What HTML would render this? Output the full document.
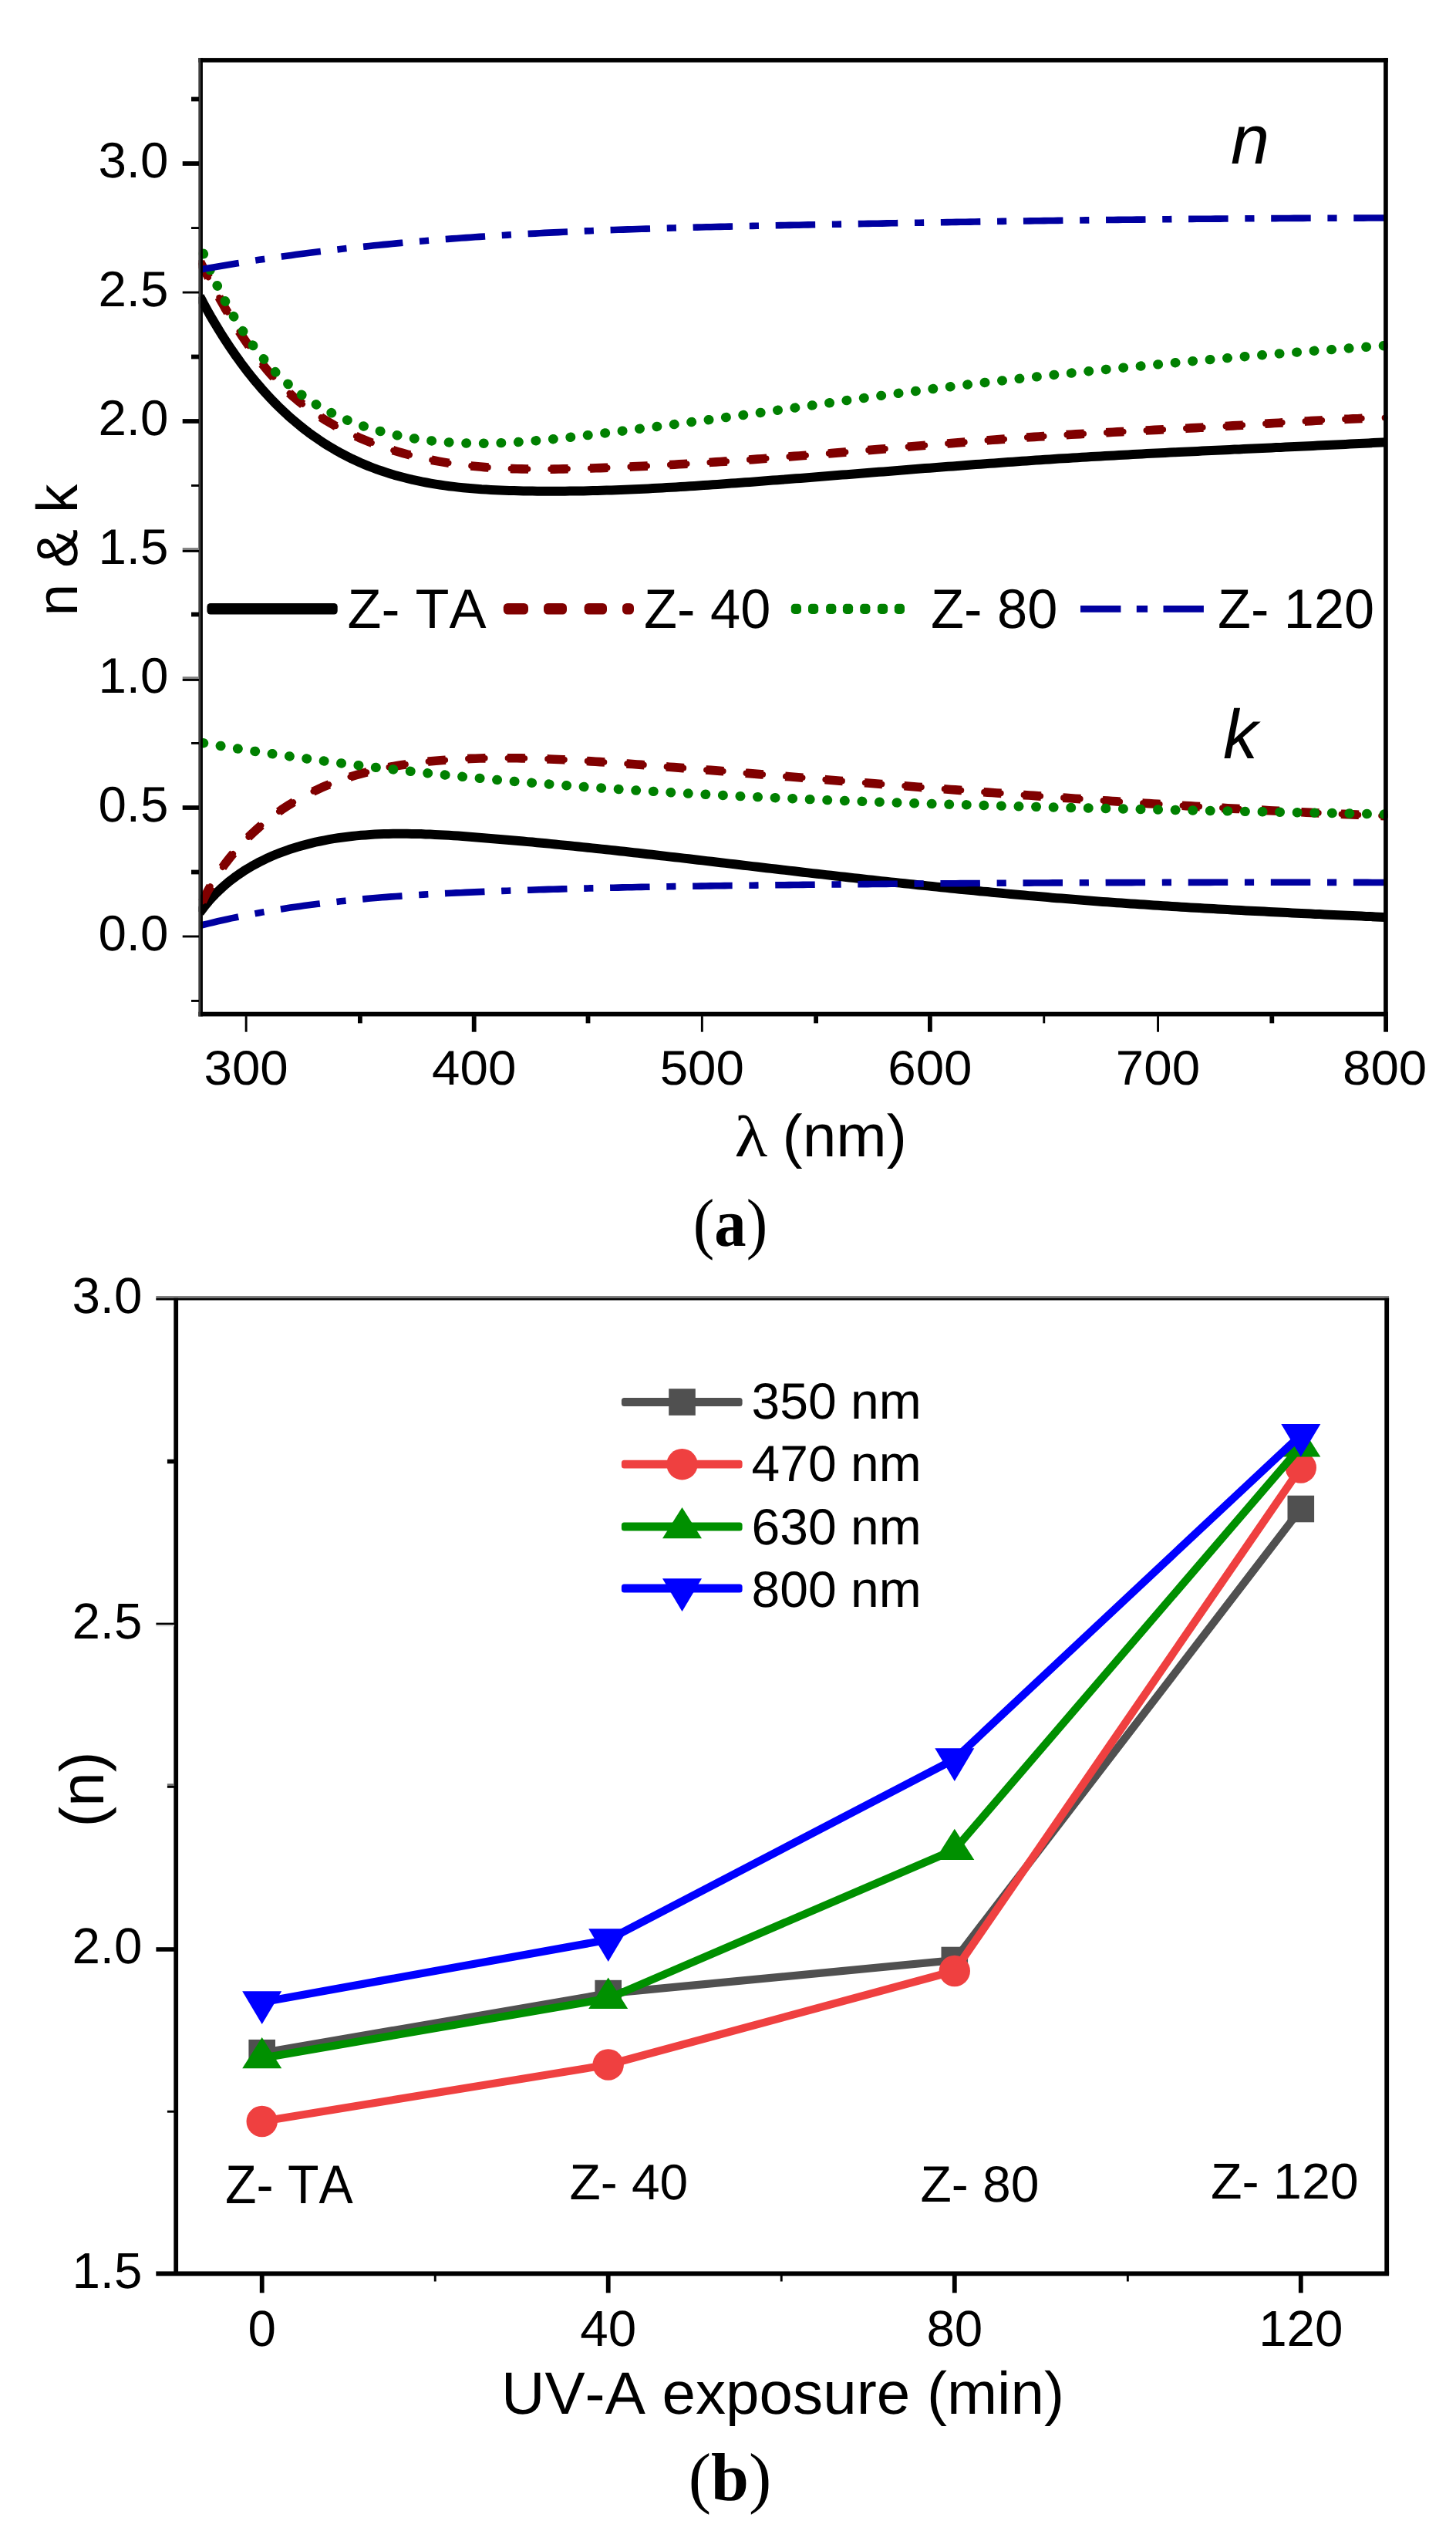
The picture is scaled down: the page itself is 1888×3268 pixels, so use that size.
<!DOCTYPE html>
<html><head><meta charset="utf-8"><title>Figure</title>
<style>html,body{margin:0;padding:0;background:#fff}svg{display:block}</style>
</head><body>
<svg width="1888" height="3268" viewBox="0 0 1888 3268" font-family='"Liberation Sans", Arial, sans-serif' text-rendering="geometricPrecision" font-kerning="none" style="font-kerning:none">
<rect width="1888" height="3268" fill="#fff"/>
<defs><clipPath id="ca"><rect x="257.5" y="80" width="1542" height="1234"/></clipPath></defs>
<g clip-path="url(#ca)" fill="none" stroke-linejoin="round">
<path d="M259.0 384.0 L261.8 389.2 L264.5 394.4 L267.4 399.6 L270.3 404.8 L273.2 410.0 L276.2 415.1 L279.3 420.3 L282.4 425.4 L285.5 430.5 L288.7 435.6 L292.0 440.7 L295.3 445.7 L298.6 450.7 L302.0 455.7 L305.5 460.7 L309.0 465.6 L312.5 470.5 L316.2 475.4 L319.8 480.2 L323.6 484.9 L327.3 489.6 L331.2 494.3 L335.1 498.9 L339.0 503.5 L343.0 508.0 L347.1 512.5 L351.2 516.9 L355.4 521.2 L359.6 525.5 L363.9 529.7 L368.3 533.8 L372.7 537.9 L377.2 541.9 L381.7 545.8 L386.3 549.7 L391.0 553.5 L395.7 557.2 L400.4 560.8 L405.3 564.3 L410.1 567.7 L415.1 571.1 L420.1 574.4 L425.1 577.6 L430.2 580.6 L435.3 583.7 L440.5 586.6 L445.8 589.4 L451.1 592.1 L456.4 594.8 L461.8 597.3 L467.2 599.8 L472.7 602.1 L478.2 604.4 L483.7 606.5 L489.3 608.6 L495.0 610.5 L500.6 612.4 L506.3 614.2 L512.0 615.9 L517.8 617.5 L523.6 619.0 L529.4 620.5 L535.2 621.9 L541.1 623.1 L546.9 624.4 L552.8 625.5 L558.7 626.6 L564.7 627.6 L570.6 628.5 L576.5 629.4 L582.5 630.2 L588.5 630.9 L594.4 631.6 L600.4 632.2 L606.4 632.8 L612.4 633.3 L618.4 633.7 L624.4 634.2 L630.4 634.5 L636.5 634.9 L642.5 635.2 L648.5 635.5 L654.5 635.7 L660.5 635.9 L666.6 636.1 L672.6 636.2 L678.6 636.4 L684.6 636.5 L690.6 636.6 L696.6 636.7 L702.6 636.7 L708.7 636.7 L714.7 636.8 L720.7 636.8 L726.7 636.7 L732.7 636.7 L738.7 636.6 L744.7 636.6 L750.7 636.5 L756.7 636.4 L762.7 636.2 L768.6 636.1 L774.6 636.0 L780.6 635.8 L786.6 635.6 L792.6 635.4 L798.6 635.2 L804.6 635.0 L810.6 634.7 L816.6 634.5 L822.6 634.2 L828.6 634.0 L834.5 633.7 L840.5 633.4 L846.5 633.1 L852.5 632.8 L858.5 632.4 L864.5 632.1 L870.5 631.8 L876.5 631.4 L882.4 631.1 L888.4 630.7 L894.4 630.3 L900.4 629.9 L906.4 629.5 L912.4 629.1 L918.3 628.7 L924.3 628.3 L930.3 627.9 L936.3 627.5 L942.3 627.1 L948.3 626.6 L954.2 626.2 L960.2 625.8 L966.2 625.3 L972.2 624.9 L978.2 624.4 L984.1 624.0 L990.1 623.5 L996.1 623.1 L1002.1 622.6 L1008.1 622.2 L1014.1 621.7 L1020.0 621.3 L1026.0 620.8 L1032.0 620.3 L1038.0 619.9 L1044.0 619.4 L1049.9 618.9 L1055.9 618.5 L1061.9 618.0 L1067.9 617.5 L1073.9 617.1 L1079.9 616.6 L1085.8 616.1 L1091.8 615.6 L1097.8 615.2 L1103.8 614.7 L1109.8 614.2 L1115.7 613.7 L1121.7 613.3 L1127.7 612.8 L1133.7 612.3 L1139.7 611.8 L1145.6 611.4 L1151.6 610.9 L1157.6 610.4 L1163.6 609.9 L1169.6 609.5 L1175.6 609.0 L1181.5 608.5 L1187.5 608.1 L1193.5 607.6 L1199.5 607.1 L1205.5 606.7 L1211.5 606.2 L1217.4 605.7 L1223.4 605.3 L1229.4 604.8 L1235.4 604.4 L1241.4 603.9 L1247.4 603.5 L1253.3 603.0 L1259.3 602.6 L1265.3 602.1 L1271.3 601.7 L1277.3 601.2 L1283.3 600.8 L1289.2 600.4 L1295.2 599.9 L1301.2 599.5 L1307.2 599.1 L1313.2 598.7 L1319.2 598.2 L1325.2 597.8 L1331.1 597.4 L1337.1 597.0 L1343.1 596.6 L1349.1 596.2 L1355.1 595.8 L1361.1 595.4 L1367.1 595.0 L1373.1 594.6 L1379.0 594.3 L1385.0 593.9 L1391.0 593.5 L1397.0 593.2 L1403.0 592.8 L1409.0 592.4 L1415.0 592.1 L1421.0 591.7 L1427.0 591.4 L1432.9 591.1 L1438.9 590.7 L1444.9 590.4 L1450.9 590.1 L1456.9 589.7 L1462.9 589.4 L1468.9 589.1 L1474.9 588.8 L1480.9 588.5 L1486.9 588.1 L1492.9 587.8 L1498.9 587.5 L1504.8 587.2 L1510.8 586.9 L1516.8 586.6 L1522.8 586.3 L1528.8 586.0 L1534.8 585.7 L1540.8 585.5 L1546.8 585.2 L1552.8 584.9 L1558.8 584.6 L1564.8 584.3 L1570.8 584.0 L1576.8 583.7 L1582.8 583.5 L1588.7 583.2 L1594.7 582.9 L1600.7 582.6 L1606.7 582.4 L1612.7 582.1 L1618.7 581.8 L1624.7 581.5 L1630.7 581.2 L1636.7 581.0 L1642.7 580.7 L1648.7 580.4 L1654.7 580.1 L1660.7 579.9 L1666.7 579.6 L1672.7 579.3 L1678.6 579.0 L1684.6 578.7 L1690.6 578.5 L1696.6 578.2 L1702.6 577.9 L1708.6 577.6 L1714.6 577.3 L1720.6 577.0 L1726.6 576.8 L1732.6 576.5 L1738.6 576.2 L1744.6 575.9 L1750.6 575.6 L1756.6 575.3 L1762.6 575.0 L1768.5 574.7 L1774.5 574.4 L1780.5 574.1 L1786.5 573.7 L1792.5 573.4 L1797.0 573.2" stroke="#000" stroke-width="12.0"/>
<path d="M259.0 1183.0 L262.8 1178.0 L266.6 1173.1 L270.6 1168.3 L274.7 1163.8 L278.9 1159.3 L283.2 1155.1 L287.6 1151.0 L292.1 1147.0 L296.7 1143.1 L301.4 1139.5 L306.2 1135.9 L311.1 1132.5 L316.0 1129.2 L321.0 1126.1 L326.1 1123.1 L331.3 1120.2 L336.5 1117.4 L341.8 1114.8 L347.1 1112.2 L352.6 1109.8 L358.0 1107.5 L363.5 1105.4 L369.1 1103.3 L374.7 1101.3 L380.4 1099.5 L386.1 1097.7 L391.8 1096.1 L397.5 1094.6 L403.3 1093.1 L409.1 1091.7 L415.0 1090.5 L420.8 1089.3 L426.7 1088.2 L432.5 1087.2 L438.4 1086.3 L444.3 1085.5 L450.2 1084.7 L456.2 1084.0 L462.1 1083.4 L468.0 1082.8 L474.0 1082.4 L479.9 1082.0 L485.9 1081.6 L491.9 1081.3 L497.9 1081.1 L503.8 1080.9 L509.8 1080.8 L515.8 1080.8 L521.8 1080.7 L527.8 1080.8 L533.9 1080.9 L539.9 1081.0 L545.9 1081.1 L551.9 1081.4 L557.9 1081.6 L564.0 1081.9 L570.0 1082.2 L576.0 1082.5 L582.1 1082.8 L588.1 1083.2 L594.1 1083.6 L600.1 1084.1 L606.2 1084.5 L612.2 1084.9 L618.2 1085.4 L624.2 1085.9 L630.3 1086.4 L636.3 1086.9 L642.3 1087.4 L648.3 1087.9 L654.3 1088.4 L660.3 1088.9 L666.3 1089.4 L672.3 1090.0 L678.3 1090.5 L684.3 1091.1 L690.3 1091.6 L696.3 1092.2 L702.3 1092.7 L708.2 1093.3 L714.2 1093.9 L720.2 1094.5 L726.2 1095.1 L732.2 1095.7 L738.1 1096.3 L744.1 1096.9 L750.1 1097.5 L756.0 1098.1 L762.0 1098.7 L768.0 1099.4 L773.9 1100.0 L779.9 1100.6 L785.9 1101.3 L791.8 1101.9 L797.8 1102.5 L803.7 1103.2 L809.7 1103.8 L815.6 1104.5 L821.6 1105.2 L827.5 1105.8 L833.5 1106.5 L839.4 1107.2 L845.4 1107.8 L851.3 1108.5 L857.3 1109.2 L863.2 1109.9 L869.2 1110.6 L875.1 1111.2 L881.1 1111.9 L887.0 1112.6 L893.0 1113.3 L898.9 1114.0 L904.9 1114.7 L910.8 1115.4 L916.7 1116.1 L922.7 1116.8 L928.6 1117.5 L934.6 1118.2 L940.5 1118.9 L946.5 1119.6 L952.4 1120.3 L958.4 1121.0 L964.3 1121.7 L970.2 1122.4 L976.2 1123.1 L982.1 1123.8 L988.1 1124.5 L994.0 1125.2 L1000.0 1125.9 L1005.9 1126.5 L1011.9 1127.2 L1017.8 1127.9 L1023.8 1128.6 L1029.8 1129.3 L1035.7 1130.0 L1041.7 1130.7 L1047.6 1131.4 L1053.6 1132.1 L1059.5 1132.7 L1065.5 1133.4 L1071.5 1134.1 L1077.4 1134.8 L1083.4 1135.5 L1089.3 1136.1 L1095.3 1136.8 L1101.3 1137.5 L1107.2 1138.1 L1113.2 1138.8 L1119.2 1139.5 L1125.1 1140.1 L1131.1 1140.8 L1137.1 1141.4 L1143.0 1142.1 L1149.0 1142.7 L1155.0 1143.4 L1161.0 1144.0 L1166.9 1144.6 L1172.9 1145.3 L1178.9 1145.9 L1184.9 1146.5 L1190.8 1147.2 L1196.8 1147.8 L1202.8 1148.4 L1208.8 1149.0 L1214.7 1149.6 L1220.7 1150.3 L1226.7 1150.9 L1232.7 1151.5 L1238.6 1152.1 L1244.6 1152.7 L1250.6 1153.2 L1256.6 1153.8 L1262.6 1154.4 L1268.5 1155.0 L1274.5 1155.6 L1280.5 1156.1 L1286.5 1156.7 L1292.5 1157.3 L1298.4 1157.8 L1304.4 1158.4 L1310.4 1158.9 L1316.4 1159.5 L1322.4 1160.0 L1328.3 1160.5 L1334.3 1161.1 L1340.3 1161.6 L1346.3 1162.1 L1352.3 1162.6 L1358.3 1163.1 L1364.2 1163.7 L1370.2 1164.2 L1376.2 1164.6 L1382.2 1165.1 L1388.2 1165.6 L1394.2 1166.1 L1400.1 1166.6 L1406.1 1167.0 L1412.1 1167.5 L1418.1 1168.0 L1424.1 1168.4 L1430.0 1168.9 L1436.0 1169.3 L1442.0 1169.7 L1448.0 1170.2 L1454.0 1170.6 L1460.0 1171.0 L1465.9 1171.4 L1471.9 1171.8 L1477.9 1172.2 L1483.9 1172.6 L1489.9 1173.0 L1495.8 1173.4 L1501.8 1173.8 L1507.8 1174.2 L1513.8 1174.6 L1519.8 1174.9 L1525.8 1175.3 L1531.7 1175.7 L1537.7 1176.0 L1543.7 1176.4 L1549.7 1176.7 L1555.7 1177.1 L1561.7 1177.4 L1567.6 1177.8 L1573.6 1178.1 L1579.6 1178.5 L1585.6 1178.8 L1591.6 1179.1 L1597.6 1179.4 L1603.6 1179.8 L1609.5 1180.1 L1615.5 1180.4 L1621.5 1180.7 L1627.5 1181.0 L1633.5 1181.3 L1639.5 1181.6 L1645.5 1181.9 L1651.5 1182.2 L1657.4 1182.5 L1663.4 1182.8 L1669.4 1183.1 L1675.4 1183.4 L1681.4 1183.7 L1687.4 1184.0 L1693.4 1184.3 L1699.4 1184.6 L1705.4 1184.9 L1711.4 1185.1 L1717.4 1185.4 L1723.4 1185.7 L1729.4 1186.0 L1735.4 1186.2 L1741.4 1186.5 L1747.4 1186.8 L1753.4 1187.1 L1759.4 1187.3 L1765.4 1187.6 L1771.4 1187.9 L1777.4 1188.1 L1783.4 1188.4 L1789.4 1188.7 L1795.4 1188.9 L1797.0 1189.0" stroke="#000" stroke-width="12.0"/>
<defs><path id="rn" d="M258.2 336.7 L260.9 341.9 L263.6 347.1 L266.3 352.3 L269.1 357.5 L271.8 362.8 L274.6 368.0 L277.4 373.3 L280.3 378.6 L283.2 383.8 L286.1 389.1 L289.1 394.4 L292.0 399.7 L295.1 404.9 L298.2 410.2 L301.3 415.4 L304.4 420.6 L307.6 425.7 L310.9 430.9 L314.2 436.0 L317.6 441.0 L321.0 446.0 L324.4 451.0 L328.0 455.9 L331.6 460.8 L335.2 465.6 L338.9 470.4 L342.7 475.1 L346.5 479.7 L350.4 484.3 L354.4 488.7 L358.5 493.1 L362.6 497.4 L366.8 501.7 L371.1 505.8 L375.5 509.9 L379.9 513.8 L384.4 517.7 L389.0 521.5 L393.7 525.1 L398.4 528.7 L403.2 532.2 L408.1 535.6 L413.1 538.9 L418.1 542.1 L423.1 545.3 L428.2 548.3 L433.4 551.3 L438.7 554.2 L443.9 556.9 L449.3 559.6 L454.7 562.3 L460.1 564.8 L465.6 567.3 L471.1 569.6 L476.6 571.9 L482.2 574.1 L487.9 576.3 L493.5 578.3 L499.2 580.3 L504.9 582.2 L510.7 584.0 L516.5 585.7 L522.3 587.4 L528.1 589.0 L533.9 590.5 L539.8 592.0 L545.6 593.3 L551.5 594.6 L557.4 595.8 L563.3 597.0 L569.2 598.1 L575.1 599.1 L581.0 600.1 L586.9 601.0 L592.9 601.8 L598.8 602.6 L604.8 603.3 L610.7 603.9 L616.7 604.5 L622.6 605.1 L628.6 605.6 L634.6 606.0 L640.5 606.4 L646.5 606.8 L652.5 607.1 L658.5 607.3 L664.5 607.6 L670.5 607.8 L676.5 607.9 L682.5 608.0 L688.5 608.1 L694.5 608.2 L700.5 608.2 L706.5 608.2 L712.5 608.2 L718.5 608.1 L724.5 608.0 L730.5 607.9 L736.5 607.8 L742.5 607.7 L748.6 607.5 L754.6 607.4 L760.6 607.2 L766.6 607.0 L772.6 606.8 L778.6 606.6 L784.6 606.4 L790.6 606.2 L796.6 605.9 L802.6 605.7 L808.6 605.4 L814.6 605.2 L820.6 604.9 L826.6 604.6 L832.6 604.4 L838.6 604.1 L844.6 603.8 L850.5 603.5 L856.5 603.2 L862.5 602.8 L868.5 602.5 L874.5 602.2 L880.5 601.8 L886.5 601.5 L892.5 601.1 L898.4 600.8 L904.4 600.4 L910.4 600.0 L916.4 599.7 L922.4 599.3 L928.4 598.9 L934.3 598.5 L940.3 598.1 L946.3 597.7 L952.3 597.3 L958.3 596.8 L964.2 596.4 L970.2 596.0 L976.2 595.6 L982.2 595.1 L988.2 594.7 L994.1 594.2 L1000.1 593.8 L1006.1 593.3 L1012.1 592.9 L1018.1 592.4 L1024.0 591.9 L1030.0 591.4 L1036.0 591.0 L1042.0 590.5 L1048.0 590.0 L1053.9 589.5 L1059.9 589.0 L1065.9 588.6 L1071.9 588.1 L1077.9 587.6 L1083.8 587.1 L1089.8 586.6 L1095.8 586.1 L1101.8 585.6 L1107.7 585.1 L1113.7 584.6 L1119.7 584.1 L1125.7 583.6 L1131.7 583.1 L1137.6 582.6 L1143.6 582.1 L1149.6 581.6 L1155.6 581.0 L1161.6 580.5 L1167.5 580.0 L1173.5 579.5 L1179.5 579.0 L1185.5 578.5 L1191.5 578.0 L1197.4 577.5 L1203.4 577.0 L1209.4 576.5 L1215.4 576.0 L1221.4 575.6 L1227.4 575.1 L1233.3 574.6 L1239.3 574.1 L1245.3 573.6 L1251.3 573.1 L1257.3 572.7 L1263.2 572.2 L1269.2 571.7 L1275.2 571.2 L1281.2 570.8 L1287.2 570.3 L1293.2 569.9 L1299.1 569.4 L1305.1 569.0 L1311.1 568.5 L1317.1 568.1 L1323.1 567.7 L1329.1 567.2 L1335.1 566.8 L1341.0 566.4 L1347.0 566.0 L1353.0 565.6 L1359.0 565.2 L1365.0 564.8 L1371.0 564.4 L1377.0 564.0 L1382.9 563.6 L1388.9 563.3 L1394.9 562.9 L1400.9 562.6 L1406.9 562.2 L1412.9 561.9 L1418.9 561.5 L1424.9 561.2 L1430.9 560.9 L1436.9 560.6 L1442.8 560.2 L1448.8 559.9 L1454.8 559.6 L1460.8 559.3 L1466.8 559.0 L1472.8 558.7 L1478.8 558.4 L1484.8 558.0 L1490.8 557.7 L1496.8 557.4 L1502.8 557.1 L1508.7 556.8 L1514.7 556.5 L1520.7 556.2 L1526.7 555.9 L1532.7 555.6 L1538.7 555.3 L1544.7 554.9 L1550.7 554.6 L1556.7 554.3 L1562.7 554.0 L1568.7 553.6 L1574.6 553.3 L1580.6 553.0 L1586.6 552.6 L1592.6 552.3 L1598.6 551.9 L1604.6 551.5 L1610.6 551.2 L1616.6 550.8 L1622.6 550.4 L1628.6 550.0 L1634.5 549.7 L1640.5 549.3 L1646.5 548.9 L1652.5 548.5 L1658.5 548.2 L1664.5 547.8 L1670.5 547.4 L1676.5 547.0 L1682.5 546.7 L1688.4 546.3 L1694.4 546.0 L1700.4 545.6 L1706.4 545.3 L1712.4 545.0 L1718.4 544.6 L1724.4 544.3 L1730.4 544.0 L1736.4 543.7 L1742.4 543.4 L1748.4 543.2 L1754.4 542.9 L1760.4 542.7 L1766.3 542.4 L1772.3 542.2 L1778.3 542.0 L1784.3 541.8 L1790.3 541.7 L1796.2 541.5"/></defs>
<use href="#rn" stroke="#800000" stroke-width="11.6" stroke-dasharray="23.2 28.4" stroke-dashoffset="-3.2"/>
<use href="#rn" stroke="#800000" stroke-width="7.6" stroke-dasharray="22 29.6" stroke-dashoffset="-3.8" stroke-linecap="round"/>
<defs><path id="rk" d="M261.0 1172.0 L263.6 1166.5 L266.3 1161.0 L269.1 1155.6 L272.1 1150.3 L275.1 1145.1 L278.2 1139.9 L281.5 1134.8 L284.8 1129.7 L288.3 1124.8 L291.8 1119.9 L295.5 1115.1 L299.2 1110.4 L303.1 1105.8 L307.0 1101.2 L311.0 1096.7 L315.1 1092.3 L319.3 1088.0 L323.5 1083.8 L327.8 1079.7 L332.3 1075.6 L336.8 1071.6 L341.3 1067.8 L345.9 1064.0 L350.6 1060.3 L355.4 1056.7 L360.2 1053.2 L365.1 1049.7 L370.1 1046.4 L375.1 1043.2 L380.2 1040.1 L385.3 1037.0 L390.5 1034.1 L395.7 1031.3 L401.0 1028.5 L406.3 1025.9 L411.7 1023.4 L417.1 1020.9 L422.5 1018.6 L428.0 1016.4 L433.6 1014.2 L439.1 1012.2 L444.7 1010.2 L450.4 1008.3 L456.0 1006.5 L461.7 1004.8 L467.5 1003.2 L473.2 1001.6 L479.0 1000.1 L484.8 998.7 L490.7 997.4 L496.5 996.1 L502.4 994.9 L508.3 993.8 L514.2 992.8 L520.2 991.8 L526.1 990.9 L532.1 990.0 L538.1 989.2 L544.1 988.4 L550.1 987.8 L556.1 987.1 L562.1 986.5 L568.1 986.0 L574.1 985.5 L580.2 985.0 L586.2 984.6 L592.2 984.3 L598.2 984.0 L604.3 983.7 L610.3 983.4 L616.3 983.2 L622.3 983.0 L628.3 982.9 L634.4 982.8 L640.4 982.7 L646.4 982.7 L652.4 982.7 L658.4 982.7 L664.4 982.7 L670.4 982.8 L676.4 982.9 L682.4 983.0 L688.4 983.2 L694.4 983.3 L700.4 983.5 L706.4 983.7 L712.3 984.0 L718.3 984.2 L724.3 984.5 L730.3 984.8 L736.3 985.1 L742.3 985.4 L748.3 985.8 L754.2 986.1 L760.2 986.5 L766.2 986.9 L772.2 987.2 L778.2 987.6 L784.2 988.0 L790.1 988.4 L796.1 988.8 L802.1 989.3 L808.1 989.7 L814.1 990.1 L820.0 990.5 L826.0 991.0 L832.0 991.4 L838.0 991.9 L844.0 992.3 L849.9 992.8 L855.9 993.2 L861.9 993.7 L867.9 994.2 L873.9 994.6 L879.8 995.1 L885.8 995.6 L891.8 996.0 L897.8 996.5 L903.8 997.0 L909.7 997.5 L915.7 998.0 L921.7 998.4 L927.7 998.9 L933.7 999.4 L939.6 999.9 L945.6 1000.4 L951.6 1000.9 L957.6 1001.4 L963.6 1001.9 L969.5 1002.4 L975.5 1002.9 L981.5 1003.4 L987.5 1003.9 L993.5 1004.3 L999.4 1004.8 L1005.4 1005.3 L1011.4 1005.8 L1017.4 1006.3 L1023.3 1006.8 L1029.3 1007.3 L1035.3 1007.8 L1041.3 1008.3 L1047.3 1008.8 L1053.2 1009.3 L1059.2 1009.7 L1065.2 1010.2 L1071.2 1010.7 L1077.2 1011.2 L1083.2 1011.7 L1089.1 1012.2 L1095.1 1012.6 L1101.1 1013.1 L1107.1 1013.6 L1113.1 1014.1 L1119.0 1014.6 L1125.0 1015.0 L1131.0 1015.5 L1137.0 1016.0 L1143.0 1016.5 L1148.9 1016.9 L1154.9 1017.4 L1160.9 1017.9 L1166.9 1018.4 L1172.9 1018.8 L1178.8 1019.3 L1184.8 1019.8 L1190.8 1020.2 L1196.8 1020.7 L1202.8 1021.2 L1208.8 1021.6 L1214.7 1022.1 L1220.7 1022.5 L1226.7 1023.0 L1232.7 1023.5 L1238.7 1023.9 L1244.7 1024.4 L1250.6 1024.8 L1256.6 1025.3 L1262.6 1025.7 L1268.6 1026.2 L1274.6 1026.6 L1280.6 1027.1 L1286.5 1027.5 L1292.5 1028.0 L1298.5 1028.4 L1304.5 1028.8 L1310.5 1029.3 L1316.5 1029.7 L1322.4 1030.1 L1328.4 1030.6 L1334.4 1031.0 L1340.4 1031.4 L1346.4 1031.9 L1352.4 1032.3 L1358.4 1032.7 L1364.3 1033.1 L1370.3 1033.6 L1376.3 1034.0 L1382.3 1034.4 L1388.3 1034.8 L1394.3 1035.2 L1400.2 1035.6 L1406.2 1036.1 L1412.2 1036.5 L1418.2 1036.9 L1424.2 1037.3 L1430.2 1037.7 L1436.2 1038.1 L1442.2 1038.5 L1448.1 1038.9 L1454.1 1039.3 L1460.1 1039.7 L1466.1 1040.1 L1472.1 1040.4 L1478.1 1040.8 L1484.1 1041.2 L1490.0 1041.6 L1496.0 1042.0 L1502.0 1042.3 L1508.0 1042.7 L1514.0 1043.1 L1520.0 1043.5 L1526.0 1043.8 L1532.0 1044.2 L1538.0 1044.6 L1543.9 1044.9 L1549.9 1045.3 L1555.9 1045.6 L1561.9 1046.0 L1567.9 1046.3 L1573.9 1046.7 L1579.9 1047.0 L1585.9 1047.4 L1591.9 1047.7 L1597.8 1048.1 L1603.8 1048.4 L1609.8 1048.7 L1615.8 1049.1 L1621.8 1049.4 L1627.8 1049.7 L1633.8 1050.0 L1639.8 1050.4 L1645.8 1050.7 L1651.8 1051.0 L1657.8 1051.3 L1663.8 1051.6 L1669.7 1051.9 L1675.7 1052.2 L1681.7 1052.5 L1687.7 1052.8 L1693.7 1053.1 L1699.7 1053.4 L1705.7 1053.7 L1711.7 1054.0 L1717.7 1054.3 L1723.7 1054.5 L1729.7 1054.8 L1735.7 1055.1 L1741.7 1055.4 L1747.7 1055.6 L1753.7 1055.9 L1759.6 1056.1 L1765.6 1056.4 L1771.6 1056.7 L1777.6 1056.9 L1783.6 1057.2 L1789.6 1057.4 L1795.6 1057.6 L1797.0 1057.7"/></defs>
<use href="#rk" stroke="#800000" stroke-width="11.6" stroke-dasharray="23.2 28.4" stroke-dashoffset="-3.2"/>
<use href="#rk" stroke="#800000" stroke-width="7.6" stroke-dasharray="22 29.6" stroke-dashoffset="-3.8" stroke-linecap="round"/>
<path d="M263.7 328.7 L265.9 334.2 L268.1 339.7 L270.4 345.2 L272.7 350.7 L275.1 356.1 L277.6 361.6 L280.1 367.0 L282.7 372.4 L285.3 377.7 L288.1 383.1 L290.8 388.4 L293.7 393.7 L296.6 398.9 L299.6 404.2 L302.6 409.4 L305.8 414.6 L308.9 419.7 L312.2 424.8 L315.5 429.9 L318.9 434.9 L322.4 439.9 L325.9 444.9 L329.5 449.7 L333.2 454.6 L336.9 459.3 L340.8 464.0 L344.7 468.6 L348.6 473.2 L352.7 477.6 L356.9 482.0 L361.1 486.3 L365.4 490.4 L369.8 494.5 L374.2 498.5 L378.8 502.3 L383.4 506.0 L388.1 509.6 L392.9 513.1 L397.8 516.5 L402.7 519.8 L407.7 522.9 L412.8 526.0 L418.0 529.0 L423.2 531.8 L428.4 534.5 L433.8 537.2 L439.2 539.7 L444.6 542.1 L450.1 544.5 L455.6 546.7 L461.2 548.8 L466.9 550.9 L472.5 552.8 L478.2 554.7 L484.0 556.4 L489.8 558.1 L495.6 559.7 L501.4 561.2 L507.3 562.6 L513.2 563.9 L519.1 565.2 L525.0 566.3 L530.9 567.4 L536.9 568.4 L542.9 569.3 L548.9 570.1 L554.9 570.9 L560.8 571.6 L566.8 572.2 L572.8 572.7 L578.8 573.2 L584.8 573.6 L590.8 574.0 L596.8 574.2 L602.8 574.4 L608.8 574.6 L614.8 574.7 L620.7 574.7 L626.7 574.7 L632.7 574.6 L638.7 574.5 L644.7 574.3 L650.7 574.1 L656.6 573.9 L662.6 573.6 L668.6 573.2 L674.6 572.8 L680.6 572.4 L686.5 572.0 L692.5 571.5 L698.5 571.0 L704.5 570.4 L710.4 569.9 L716.4 569.3 L722.4 568.7 L728.3 568.0 L734.3 567.4 L740.3 566.7 L746.2 566.0 L752.2 565.3 L758.2 564.6 L764.1 563.9 L770.1 563.2 L776.1 562.5 L782.0 561.7 L788.0 561.0 L793.9 560.3 L799.9 559.5 L805.8 558.8 L811.8 558.1 L817.8 557.3 L823.7 556.6 L829.7 555.8 L835.6 555.0 L841.6 554.3 L847.5 553.5 L853.5 552.8 L859.4 552.0 L865.4 551.2 L871.3 550.5 L877.3 549.7 L883.2 548.9 L889.1 548.1 L895.1 547.3 L901.0 546.5 L907.0 545.7 L912.9 545.0 L918.9 544.2 L924.8 543.4 L930.7 542.5 L936.7 541.7 L942.6 540.9 L948.6 540.1 L954.5 539.3 L960.5 538.5 L966.4 537.7 L972.3 536.8 L978.3 536.0 L984.2 535.2 L990.2 534.4 L996.1 533.5 L1002.0 532.7 L1008.0 531.8 L1013.9 531.0 L1019.9 530.2 L1025.8 529.3 L1031.7 528.5 L1037.7 527.6 L1043.6 526.8 L1049.6 525.9 L1055.5 525.1 L1061.5 524.3 L1067.4 523.4 L1073.3 522.6 L1079.3 521.7 L1085.2 520.9 L1091.2 520.1 L1097.1 519.2 L1103.0 518.4 L1109.0 517.6 L1114.9 516.7 L1120.9 515.9 L1126.8 515.1 L1132.8 514.3 L1138.7 513.4 L1144.7 512.6 L1150.6 511.8 L1156.6 511.0 L1162.5 510.2 L1168.5 509.4 L1174.4 508.6 L1180.4 507.9 L1186.3 507.1 L1192.3 506.3 L1198.2 505.6 L1204.2 504.8 L1210.1 504.0 L1216.1 503.3 L1222.0 502.6 L1228.0 501.8 L1233.9 501.1 L1239.9 500.4 L1245.8 499.6 L1251.8 498.9 L1257.7 498.2 L1263.7 497.5 L1269.7 496.8 L1275.6 496.1 L1281.6 495.4 L1287.5 494.7 L1293.5 494.0 L1299.5 493.4 L1305.4 492.7 L1311.4 492.0 L1317.3 491.3 L1323.3 490.7 L1329.3 490.0 L1335.2 489.4 L1341.2 488.7 L1347.1 488.1 L1353.1 487.4 L1359.1 486.8 L1365.0 486.1 L1371.0 485.5 L1377.0 484.9 L1382.9 484.2 L1388.9 483.6 L1394.9 483.0 L1400.8 482.4 L1406.8 481.8 L1412.8 481.1 L1418.7 480.5 L1424.7 479.9 L1430.7 479.3 L1436.7 478.7 L1442.6 478.1 L1448.6 477.5 L1454.6 476.9 L1460.5 476.3 L1466.5 475.8 L1472.5 475.2 L1478.4 474.6 L1484.4 474.0 L1490.4 473.4 L1496.4 472.9 L1502.3 472.3 L1508.3 471.7 L1514.3 471.2 L1520.3 470.6 L1526.2 470.0 L1532.2 469.5 L1538.2 468.9 L1544.2 468.4 L1550.1 467.8 L1556.1 467.3 L1562.1 466.8 L1568.1 466.2 L1574.0 465.7 L1580.0 465.2 L1586.0 464.6 L1592.0 464.1 L1598.0 463.6 L1603.9 463.1 L1609.9 462.6 L1615.9 462.0 L1621.9 461.5 L1627.8 461.0 L1633.8 460.5 L1639.8 460.0 L1645.8 459.5 L1651.8 459.0 L1657.7 458.5 L1663.7 458.1 L1669.7 457.6 L1675.7 457.1 L1681.7 456.6 L1687.6 456.1 L1693.6 455.7 L1699.6 455.2 L1705.6 454.7 L1711.6 454.3 L1717.6 453.8 L1723.5 453.4 L1729.5 452.9 L1735.5 452.4 L1741.5 452.0 L1747.5 451.6 L1753.5 451.1 L1759.4 450.7 L1765.4 450.2 L1771.4 449.8 L1777.4 449.4 L1783.4 449.0 L1789.4 448.5 L1795.3 448.1 L1795.7 448.1" stroke="#008000" stroke-width="12.4" stroke-dasharray="0.6 21.98" stroke-linecap="round"/>
<path d="M263.5 963.2 L269.4 964.2 L275.3 965.2 L281.3 966.2 L287.2 967.1 L293.1 968.1 L299.1 969.0 L305.0 970.0 L310.9 970.9 L316.9 971.8 L322.8 972.7 L328.7 973.6 L334.7 974.5 L340.6 975.4 L346.5 976.3 L352.5 977.1 L358.4 978.0 L364.3 978.9 L370.3 979.7 L376.2 980.5 L382.2 981.4 L388.1 982.2 L394.1 983.0 L400.0 983.8 L405.9 984.6 L411.9 985.4 L417.8 986.2 L423.8 987.0 L429.7 987.8 L435.7 988.5 L441.6 989.3 L447.6 990.0 L453.5 990.8 L459.5 991.5 L465.4 992.2 L471.4 992.9 L477.3 993.6 L483.3 994.4 L489.3 995.1 L495.2 995.7 L501.2 996.4 L507.1 997.1 L513.1 997.8 L519.1 998.4 L525.0 999.1 L531.0 999.7 L536.9 1000.4 L542.9 1001.0 L548.9 1001.7 L554.8 1002.3 L560.8 1002.9 L566.8 1003.5 L572.7 1004.1 L578.7 1004.7 L584.7 1005.3 L590.6 1005.9 L596.6 1006.5 L602.6 1007.1 L608.5 1007.6 L614.5 1008.2 L620.5 1008.7 L626.4 1009.3 L632.4 1009.8 L638.4 1010.4 L644.4 1010.9 L650.3 1011.4 L656.3 1012.0 L662.3 1012.5 L668.3 1013.0 L674.2 1013.5 L680.2 1014.0 L686.2 1014.5 L692.2 1015.0 L698.1 1015.5 L704.1 1015.9 L710.1 1016.4 L716.1 1016.9 L722.1 1017.3 L728.0 1017.8 L734.0 1018.2 L740.0 1018.7 L746.0 1019.1 L752.0 1019.6 L758.0 1020.0 L763.9 1020.4 L769.9 1020.9 L775.9 1021.3 L781.9 1021.7 L787.9 1022.1 L793.9 1022.5 L799.8 1022.9 L805.8 1023.3 L811.8 1023.7 L817.8 1024.1 L823.8 1024.5 L829.8 1024.8 L835.8 1025.2 L841.8 1025.6 L847.7 1025.9 L853.7 1026.3 L859.7 1026.7 L865.7 1027.0 L871.7 1027.4 L877.7 1027.7 L883.7 1028.0 L889.7 1028.4 L895.7 1028.7 L901.7 1029.1 L907.6 1029.4 L913.6 1029.7 L919.6 1030.0 L925.6 1030.3 L931.6 1030.6 L937.6 1031.0 L943.6 1031.3 L949.6 1031.6 L955.6 1031.9 L961.6 1032.2 L967.6 1032.4 L973.6 1032.7 L979.6 1033.0 L985.6 1033.3 L991.5 1033.6 L997.5 1033.9 L1003.5 1034.1 L1009.5 1034.4 L1015.5 1034.7 L1021.5 1034.9 L1027.5 1035.2 L1033.5 1035.5 L1039.5 1035.7 L1045.5 1036.0 L1051.5 1036.2 L1057.5 1036.5 L1063.5 1036.7 L1069.5 1037.0 L1075.5 1037.2 L1081.5 1037.4 L1087.5 1037.7 L1093.5 1037.9 L1099.5 1038.1 L1105.5 1038.4 L1111.5 1038.6 L1117.5 1038.8 L1123.5 1039.1 L1129.5 1039.3 L1135.5 1039.5 L1141.5 1039.7 L1147.5 1039.9 L1153.5 1040.1 L1159.4 1040.3 L1165.4 1040.5 L1171.4 1040.8 L1177.4 1041.0 L1183.4 1041.2 L1189.4 1041.4 L1195.4 1041.6 L1201.4 1041.7 L1207.4 1041.9 L1213.4 1042.1 L1219.4 1042.3 L1225.4 1042.5 L1231.4 1042.7 L1237.4 1042.9 L1243.4 1043.1 L1249.4 1043.2 L1255.4 1043.4 L1261.4 1043.6 L1267.4 1043.8 L1273.4 1043.9 L1279.4 1044.1 L1285.4 1044.3 L1291.4 1044.5 L1297.4 1044.6 L1303.4 1044.8 L1309.4 1044.9 L1315.4 1045.1 L1321.4 1045.3 L1327.4 1045.4 L1333.4 1045.6 L1339.4 1045.7 L1345.4 1045.9 L1351.4 1046.1 L1357.4 1046.2 L1363.4 1046.4 L1369.4 1046.5 L1375.4 1046.7 L1381.4 1046.8 L1387.4 1046.9 L1393.4 1047.1 L1399.4 1047.2 L1405.4 1047.4 L1411.4 1047.5 L1417.4 1047.7 L1423.4 1047.8 L1429.4 1047.9 L1435.4 1048.1 L1441.4 1048.2 L1447.4 1048.3 L1453.4 1048.5 L1459.4 1048.6 L1465.4 1048.7 L1471.4 1048.9 L1477.4 1049.0 L1483.4 1049.1 L1489.4 1049.3 L1495.4 1049.4 L1501.4 1049.5 L1507.4 1049.7 L1513.4 1049.8 L1519.4 1049.9 L1525.4 1050.0 L1531.4 1050.2 L1537.4 1050.3 L1543.4 1050.4 L1549.4 1050.5 L1555.4 1050.7 L1561.4 1050.8 L1567.4 1050.9 L1573.4 1051.0 L1579.4 1051.1 L1585.4 1051.3 L1591.4 1051.4 L1597.4 1051.5 L1603.4 1051.6 L1609.4 1051.7 L1615.4 1051.9 L1621.4 1052.0 L1627.4 1052.1 L1633.4 1052.2 L1639.4 1052.3 L1645.4 1052.5 L1651.4 1052.6 L1657.4 1052.7 L1663.4 1052.8 L1669.4 1052.9 L1675.4 1053.1 L1681.4 1053.2 L1687.3 1053.3 L1693.3 1053.4 L1699.3 1053.5 L1705.3 1053.6 L1711.3 1053.8 L1717.3 1053.9 L1723.3 1054.0 L1729.3 1054.1 L1735.3 1054.2 L1741.3 1054.4 L1747.3 1054.5 L1753.3 1054.6 L1759.3 1054.7 L1765.3 1054.9 L1771.3 1055.0 L1777.3 1055.1 L1783.3 1055.2 L1789.3 1055.3 L1795.3 1055.5 L1795.5 1055.5" stroke="#008000" stroke-width="12.4" stroke-dasharray="0.6 21.98" stroke-linecap="round"/>
<path d="M259.0 349.5 L264.9 348.4 L270.8 347.4 L276.8 346.4 L282.7 345.4 L288.6 344.4 L294.5 343.4 L300.5 342.4 L306.4 341.4 L312.3 340.5 L318.2 339.6 L324.2 338.6 L330.1 337.7 L336.0 336.8 L342.0 336.0 L347.9 335.1 L353.9 334.2 L359.8 333.4 L365.7 332.6 L371.7 331.7 L377.6 330.9 L383.6 330.1 L389.5 329.3 L395.5 328.6 L401.4 327.8 L407.4 327.1 L413.3 326.3 L419.3 325.6 L425.2 324.9 L431.2 324.2 L437.1 323.5 L443.1 322.8 L449.0 322.1 L455.0 321.5 L461.0 320.8 L466.9 320.2 L472.9 319.6 L478.8 318.9 L484.8 318.3 L490.8 317.7 L496.7 317.1 L502.7 316.6 L508.7 316.0 L514.6 315.4 L520.6 314.9 L526.6 314.3 L532.5 313.8 L538.5 313.3 L544.5 312.8 L550.5 312.3 L556.4 311.8 L562.4 311.3 L568.4 310.8 L574.4 310.3 L580.3 309.9 L586.3 309.4 L592.3 309.0 L598.3 308.5 L604.2 308.1 L610.2 307.7 L616.2 307.3 L622.2 306.9 L628.2 306.5 L634.2 306.1 L640.1 305.7 L646.1 305.3 L652.1 305.0 L658.1 304.6 L664.1 304.2 L670.1 303.9 L676.1 303.5 L682.0 303.2 L688.0 302.9 L694.0 302.6 L700.0 302.3 L706.0 301.9 L712.0 301.6 L718.0 301.4 L724.0 301.1 L730.0 300.8 L736.0 300.5 L742.0 300.2 L748.0 300.0 L753.9 299.7 L759.9 299.4 L765.9 299.2 L771.9 298.9 L777.9 298.7 L783.9 298.5 L789.9 298.2 L795.9 298.0 L801.9 297.8 L807.9 297.6 L813.9 297.4 L819.9 297.2 L825.9 297.0 L831.9 296.8 L837.9 296.6 L843.9 296.4 L849.9 296.2 L855.9 296.0 L861.9 295.8 L867.9 295.6 L873.9 295.5 L879.9 295.3 L885.9 295.1 L891.9 295.0 L897.9 294.8 L903.9 294.6 L909.9 294.5 L915.9 294.3 L921.9 294.2 L927.9 294.0 L933.9 293.9 L939.9 293.7 L945.9 293.6 L951.9 293.5 L957.9 293.3 L963.9 293.2 L969.9 293.0 L975.9 292.9 L981.9 292.8 L987.9 292.7 L994.0 292.5 L1000.0 292.4 L1006.0 292.3 L1012.0 292.1 L1018.0 292.0 L1024.0 291.9 L1030.0 291.8 L1036.0 291.7 L1042.0 291.5 L1048.0 291.4 L1054.0 291.3 L1060.0 291.2 L1066.0 291.0 L1072.0 290.9 L1078.0 290.8 L1084.0 290.7 L1090.0 290.6 L1096.0 290.5 L1102.0 290.3 L1108.0 290.2 L1114.0 290.1 L1120.0 290.0 L1126.0 289.9 L1132.0 289.8 L1138.0 289.7 L1144.0 289.6 L1150.0 289.4 L1156.0 289.3 L1162.0 289.2 L1168.0 289.1 L1174.0 289.0 L1180.0 288.9 L1186.0 288.8 L1192.0 288.7 L1198.0 288.6 L1204.0 288.5 L1210.0 288.4 L1216.0 288.3 L1222.0 288.2 L1228.0 288.1 L1234.0 288.0 L1240.0 287.9 L1246.0 287.8 L1252.0 287.7 L1258.0 287.6 L1263.9 287.5 L1269.9 287.4 L1275.9 287.3 L1281.9 287.2 L1287.9 287.1 L1293.9 287.0 L1299.9 286.9 L1305.9 286.8 L1311.9 286.7 L1317.9 286.6 L1323.9 286.6 L1329.9 286.5 L1335.9 286.4 L1341.9 286.3 L1347.9 286.2 L1353.9 286.1 L1359.9 286.0 L1365.9 286.0 L1371.9 285.9 L1377.9 285.8 L1383.9 285.7 L1389.9 285.6 L1395.9 285.6 L1401.9 285.5 L1407.9 285.4 L1413.9 285.3 L1419.9 285.3 L1425.9 285.2 L1431.9 285.1 L1437.9 285.0 L1443.9 285.0 L1449.9 284.9 L1455.9 284.8 L1461.9 284.8 L1467.9 284.7 L1473.9 284.6 L1479.9 284.6 L1485.9 284.5 L1491.9 284.4 L1497.9 284.4 L1503.9 284.3 L1509.9 284.2 L1515.9 284.2 L1521.9 284.1 L1527.9 284.1 L1533.9 284.0 L1539.9 283.9 L1545.9 283.9 L1551.9 283.8 L1557.9 283.8 L1563.9 283.7 L1569.9 283.7 L1575.9 283.6 L1581.9 283.6 L1587.9 283.5 L1593.8 283.5 L1599.8 283.4 L1605.8 283.4 L1611.8 283.3 L1617.8 283.3 L1623.8 283.3 L1629.8 283.2 L1635.8 283.2 L1641.8 283.1 L1647.8 283.1 L1653.8 283.1 L1659.8 283.0 L1665.8 283.0 L1671.8 283.0 L1677.8 282.9 L1683.8 282.9 L1689.8 282.9 L1695.8 282.8 L1701.8 282.8 L1707.8 282.8 L1713.8 282.7 L1719.8 282.7 L1725.8 282.7 L1731.9 282.7 L1737.9 282.7 L1743.9 282.6 L1749.9 282.6 L1755.9 282.6 L1761.9 282.6 L1767.9 282.6 L1773.9 282.5 L1779.9 282.5 L1785.9 282.5 L1791.9 282.5 L1797.0 282.5" stroke="#0000a0" stroke-width="8.6" stroke-dasharray="51.5 21.7 12.2 21.7"/>
<path d="M259.0 1200.0 L264.8 1198.5 L270.7 1197.1 L276.5 1195.7 L282.3 1194.3 L288.2 1193.0 L294.0 1191.7 L299.9 1190.4 L305.8 1189.2 L311.6 1188.0 L317.5 1186.8 L323.4 1185.7 L329.3 1184.6 L335.2 1183.5 L341.0 1182.4 L346.9 1181.4 L352.8 1180.4 L358.7 1179.4 L364.7 1178.5 L370.6 1177.5 L376.5 1176.6 L382.4 1175.8 L388.3 1174.9 L394.3 1174.1 L400.2 1173.3 L406.1 1172.5 L412.1 1171.8 L418.0 1171.0 L424.0 1170.3 L429.9 1169.6 L435.9 1169.0 L441.8 1168.3 L447.8 1167.7 L453.7 1167.1 L459.7 1166.5 L465.7 1165.9 L471.6 1165.4 L477.6 1164.8 L483.6 1164.3 L489.6 1163.8 L495.5 1163.3 L501.5 1162.9 L507.5 1162.4 L513.5 1162.0 L519.5 1161.6 L525.5 1161.2 L531.4 1160.8 L537.4 1160.4 L543.4 1160.0 L549.4 1159.6 L555.4 1159.3 L561.4 1159.0 L567.4 1158.6 L573.4 1158.3 L579.4 1158.0 L585.4 1157.7 L591.4 1157.4 L597.4 1157.2 L603.4 1156.9 L609.4 1156.6 L615.4 1156.4 L621.4 1156.1 L627.4 1155.9 L633.4 1155.6 L639.4 1155.4 L645.4 1155.2 L651.4 1154.9 L657.4 1154.7 L663.4 1154.5 L669.4 1154.3 L675.4 1154.1 L681.4 1153.9 L687.4 1153.7 L693.4 1153.5 L699.4 1153.3 L705.4 1153.1 L711.4 1152.9 L717.4 1152.7 L723.4 1152.6 L729.4 1152.4 L735.4 1152.2 L741.4 1152.0 L747.4 1151.9 L753.4 1151.7 L759.4 1151.6 L765.4 1151.4 L771.4 1151.3 L777.4 1151.1 L783.4 1151.0 L789.4 1150.8 L795.4 1150.7 L801.4 1150.6 L807.4 1150.4 L813.4 1150.3 L819.4 1150.2 L825.4 1150.0 L831.4 1149.9 L837.4 1149.8 L843.4 1149.7 L849.4 1149.6 L855.4 1149.5 L861.4 1149.4 L867.4 1149.3 L873.4 1149.1 L879.4 1149.0 L885.4 1148.9 L891.4 1148.8 L897.4 1148.8 L903.4 1148.7 L909.4 1148.6 L915.4 1148.5 L921.4 1148.4 L927.4 1148.3 L933.4 1148.2 L939.4 1148.1 L945.4 1148.0 L951.4 1148.0 L957.4 1147.9 L963.4 1147.8 L969.3 1147.7 L975.3 1147.7 L981.3 1147.6 L987.3 1147.5 L993.3 1147.4 L999.3 1147.4 L1005.3 1147.3 L1011.3 1147.2 L1017.3 1147.2 L1023.3 1147.1 L1029.3 1147.0 L1035.3 1147.0 L1041.3 1146.9 L1047.3 1146.8 L1053.3 1146.8 L1059.3 1146.7 L1065.3 1146.6 L1071.3 1146.6 L1077.3 1146.5 L1083.3 1146.5 L1089.3 1146.4 L1095.3 1146.3 L1101.3 1146.3 L1107.3 1146.2 L1113.3 1146.2 L1119.3 1146.1 L1125.3 1146.1 L1131.3 1146.0 L1137.3 1146.0 L1143.3 1145.9 L1149.3 1145.9 L1155.3 1145.8 L1161.3 1145.8 L1167.3 1145.7 L1173.3 1145.7 L1179.3 1145.6 L1185.3 1145.6 L1191.3 1145.5 L1197.3 1145.5 L1203.3 1145.4 L1209.3 1145.4 L1215.3 1145.3 L1221.3 1145.3 L1227.3 1145.2 L1233.3 1145.2 L1239.3 1145.2 L1245.3 1145.1 L1251.3 1145.1 L1257.3 1145.0 L1263.3 1145.0 L1269.3 1145.0 L1275.3 1144.9 L1281.3 1144.9 L1287.3 1144.8 L1293.3 1144.8 L1299.3 1144.8 L1305.3 1144.7 L1311.3 1144.7 L1317.3 1144.7 L1323.3 1144.6 L1329.3 1144.6 L1335.3 1144.6 L1341.3 1144.5 L1347.3 1144.5 L1353.3 1144.5 L1359.3 1144.5 L1365.3 1144.4 L1371.3 1144.4 L1377.3 1144.4 L1383.3 1144.4 L1389.3 1144.3 L1395.3 1144.3 L1401.3 1144.3 L1407.3 1144.3 L1413.3 1144.2 L1419.3 1144.2 L1425.3 1144.2 L1431.3 1144.2 L1437.3 1144.1 L1443.3 1144.1 L1449.3 1144.1 L1455.3 1144.1 L1461.3 1144.1 L1467.3 1144.1 L1473.3 1144.0 L1479.3 1144.0 L1485.3 1144.0 L1491.3 1144.0 L1497.3 1144.0 L1503.3 1144.0 L1509.3 1143.9 L1515.3 1143.9 L1521.3 1143.9 L1527.3 1143.9 L1533.3 1143.9 L1539.3 1143.9 L1545.3 1143.9 L1551.3 1143.9 L1557.3 1143.9 L1563.3 1143.9 L1569.3 1143.9 L1575.3 1143.8 L1581.3 1143.8 L1587.3 1143.8 L1593.3 1143.8 L1599.3 1143.8 L1605.3 1143.8 L1611.3 1143.8 L1617.3 1143.8 L1623.3 1143.8 L1629.3 1143.8 L1635.3 1143.8 L1641.3 1143.8 L1647.3 1143.8 L1653.3 1143.8 L1659.3 1143.8 L1665.3 1143.8 L1671.3 1143.8 L1677.3 1143.8 L1683.3 1143.8 L1689.3 1143.8 L1695.3 1143.8 L1701.3 1143.8 L1707.3 1143.8 L1713.3 1143.9 L1719.3 1143.9 L1725.3 1143.9 L1731.3 1143.9 L1737.3 1143.9 L1743.3 1143.9 L1749.3 1143.9 L1755.3 1143.9 L1761.3 1143.9 L1767.3 1143.9 L1773.3 1143.9 L1779.3 1144.0 L1785.3 1144.0 L1791.3 1144.0 L1797.0 1144.0" stroke="#0000a0" stroke-width="8.6" stroke-dasharray="51.5 21.7 12.2 21.7"/>
</g>
<rect x="257.3" y="75.1" width="1542.5" height="5.8" fill="#000"/>
<rect x="257.3" y="1311.7" width="1542.5" height="5.8" fill="#000"/>
<rect x="1794.1" y="75.1" width="5.7" height="1242.4" fill="#000"/>
<rect x="257.3" y="75.1" width="2.9" height="1242.4" fill="#404040"/>
<rect x="260.1" y="75.1" width="2.8" height="1242.4" fill="#000"/>
<rect x="248.0" y="125.6" width="10.0" height="5.8" fill="#000"/>
<rect x="236.7" y="209.1" width="21.3" height="5.8" fill="#000"/>
<rect x="248.0" y="294.1" width="10.0" height="2.9" fill="#000"/>
<rect x="236.7" y="377.6" width="21.3" height="2.9" fill="#000"/>
<rect x="248.0" y="459.6" width="10.0" height="5.8" fill="#000"/>
<rect x="236.7" y="543.1" width="21.3" height="5.8" fill="#000"/>
<rect x="248.0" y="628.0" width="10.0" height="2.9" fill="#000"/>
<rect x="236.7" y="710.1" width="21.3" height="2.9" fill="#808080"/><rect x="236.7" y="713.0" width="21.3" height="2.9" fill="#000"/>
<rect x="248.0" y="793.6" width="10.0" height="5.8" fill="#000"/>
<rect x="236.7" y="877.1" width="21.3" height="2.9" fill="#808080"/><rect x="236.7" y="880.0" width="21.3" height="2.9" fill="#000"/>
<rect x="248.0" y="962.0" width="10.0" height="2.9" fill="#000"/>
<rect x="236.7" y="1044.1" width="21.3" height="5.8" fill="#000"/>
<rect x="248.0" y="1127.6" width="10.0" height="5.8" fill="#000"/>
<rect x="236.7" y="1212.5" width="21.3" height="2.9" fill="#000"/>
<rect x="248.0" y="1296.0" width="10.0" height="2.9" fill="#000"/>
<rect x="317.7" y="1317.1" width="2.9" height="20.6" fill="#000"/>
<rect x="464.0" y="1317.1" width="5.8" height="9.3" fill="#000"/>
<rect x="611.8" y="1317.1" width="5.8" height="20.6" fill="#000"/>
<rect x="759.6" y="1317.1" width="5.8" height="9.3" fill="#000"/>
<rect x="908.9" y="1317.1" width="2.9" height="20.6" fill="#000"/>
<rect x="1055.2" y="1317.1" width="5.8" height="9.3" fill="#000"/>
<rect x="1203.0" y="1317.1" width="5.8" height="20.6" fill="#000"/>
<rect x="1352.3" y="1317.1" width="2.9" height="9.3" fill="#000"/>
<rect x="1500.1" y="1317.1" width="2.9" height="20.6" fill="#000"/>
<rect x="1646.4" y="1317.1" width="5.8" height="9.3" fill="#000"/>
<rect x="1794.2" y="1317.1" width="5.8" height="20.6" fill="#000"/>
<text transform="translate(218.5,1232.3) scale(1.0000,0.9900)" font-size="65.5" text-anchor="end">0.0</text>
<text transform="translate(218.5,1065.3) scale(1.0000,0.9900)" font-size="65.5" text-anchor="end">0.5</text>
<text transform="translate(218.5,898.3) scale(1.0000,0.9900)" font-size="65.5" text-anchor="end">1.0</text>
<text transform="translate(218.5,731.3) scale(1.0000,0.9900)" font-size="65.5" text-anchor="end">1.5</text>
<text transform="translate(218.5,564.3) scale(1.0000,0.9900)" font-size="65.5" text-anchor="end">2.0</text>
<text transform="translate(218.5,397.3) scale(1.0000,0.9900)" font-size="65.5" text-anchor="end">2.5</text>
<text transform="translate(218.5,230.3) scale(1.0000,0.9900)" font-size="65.5" text-anchor="end">3.0</text>
<text transform="translate(319.1,1406.2) scale(1.0000,0.9650)" font-size="65.5" text-anchor="middle">300</text>
<text transform="translate(614.7,1406.2) scale(1.0000,0.9650)" font-size="65.5" text-anchor="middle">400</text>
<text transform="translate(910.3,1406.2) scale(1.0000,0.9650)" font-size="65.5" text-anchor="middle">500</text>
<text transform="translate(1205.9,1406.2) scale(1.0000,0.9650)" font-size="65.5" text-anchor="middle">600</text>
<text transform="translate(1501.5,1406.2) scale(1.0000,0.9650)" font-size="65.5" text-anchor="middle">700</text>
<text transform="translate(1795.6,1406.2) scale(1.0000,0.9650)" font-size="65.5" text-anchor="middle">800</text>
<text transform="translate(100,713) rotate(-90)" font-size="75" text-anchor="middle">n &amp; k</text>
<text transform="translate(952.5,1499.0) scale(1.1600,1.0000)" font-size="76" font-family='"Liberation Serif", "Times New Roman", serif'>λ</text>
<text transform="translate(1014.5,1499.0) scale(1.0200,1.0000)" font-size="77">(nm)</text>
<text transform="translate(1596.0,212.0)" font-size="90" font-style="italic">n</text>
<text transform="translate(1586.0,982.5)" font-size="90" font-style="italic">k</text>
<rect x="268.4" y="782" width="169.3" height="14.6" rx="4.5" fill="#000"/>
<rect x="652.8" y="782" width="32.2" height="14.6" rx="5.5" fill="#800000"/>
<rect x="705" y="782" width="30" height="14.6" rx="5.5" fill="#800000"/>
<rect x="757.6" y="782" width="29.4" height="14.6" rx="5.5" fill="#800000"/>
<rect x="807" y="782" width="15" height="14.6" rx="5.5" fill="#800000"/>
<rect x="1025.8" y="782.7" width="13.2" height="13.2" rx="4.5" fill="#008000"/>
<rect x="1048.0" y="782.7" width="13.2" height="13.2" rx="4.5" fill="#008000"/>
<rect x="1071.1" y="782.7" width="13.2" height="13.2" rx="4.5" fill="#008000"/>
<rect x="1092.9" y="782.7" width="13.2" height="13.2" rx="4.5" fill="#008000"/>
<rect x="1115.2" y="782.7" width="13.2" height="13.2" rx="4.5" fill="#008000"/>
<rect x="1137.9" y="782.7" width="13.2" height="13.2" rx="4.5" fill="#008000"/>
<rect x="1159.8" y="782.7" width="13.2" height="13.2" rx="4.5" fill="#008000"/>
<path d="M1401 789.3H1561" stroke="#0000a0" stroke-width="8.8" fill="none" stroke-dasharray="52.4 20.4 14.3 20.4"/>
<text transform="translate(450.5,814.2)" font-size="72">Z- TA</text>
<text transform="translate(835.0,814.2) scale(0.9780,1.0000)" font-size="72">Z- 40</text>
<text transform="translate(1207.0,814.2) scale(0.9780,1.0000)" font-size="72">Z- 80</text>
<text transform="translate(1579.0,814.2) scale(0.9760,1.0000)" font-size="72">Z- 120</text>
<text transform="translate(947.0,1615.0) scale(0.9400,1.0000)" font-size="88" text-anchor="middle" font-family='"Liberation Serif", "Times New Roman", serif'>(<tspan font-weight="bold">a</tspan>)</text>
<path d="M339.7 2661.2 L788.7 2584.1 L1237.8 2541.0 L1686.8 1956.0" stroke="#505050" stroke-width="10.2" fill="none" stroke-linejoin="round"/>
<rect x="322.4" y="2643.9" width="34.6" height="34.6" fill="#505050"/>
<rect x="771.4" y="2566.8" width="34.6" height="34.6" fill="#505050"/>
<rect x="1220.5" y="2523.7" width="34.6" height="34.6" fill="#505050"/>
<rect x="1669.5" y="1938.7" width="34.6" height="34.6" fill="#505050"/>
<path d="M339.7 2750.0 L788.7 2676.5 L1237.8 2555.0 L1686.8 1902.5" stroke="#ef4040" stroke-width="10.2" fill="none" stroke-linejoin="round"/>
<circle cx="339.7" cy="2750.0" r="20.2" fill="#ef4040"/>
<circle cx="788.7" cy="2676.5" r="20.2" fill="#ef4040"/>
<circle cx="1237.8" cy="2555.0" r="20.2" fill="#ef4040"/>
<circle cx="1686.8" cy="1902.5" r="20.2" fill="#ef4040"/>
<path d="M339.7 2667.9 L788.7 2590.6 L1237.8 2397.8 L1686.8 1875.1" stroke="#009000" stroke-width="10.2" fill="none" stroke-linejoin="round"/>
<path d="M339.7 2640.9L365.2 2681.2H314.2Z" fill="#009000"/>
<path d="M788.7 2563.6L814.2 2603.9H763.2Z" fill="#009000"/>
<path d="M1237.8 2370.8L1263.3 2411.1H1212.3Z" fill="#009000"/>
<path d="M1686.8 1848.1L1712.3 1888.4H1661.3Z" fill="#009000"/>
<path d="M339.7 2595.5 L788.7 2514.5 L1237.8 2280.5 L1686.8 1860.2" stroke="#0000ff" stroke-width="10.2" fill="none" stroke-linejoin="round"/>
<path d="M339.7 2623.9L365.2 2581.3H314.2Z" fill="#0000ff"/>
<path d="M788.7 2542.9L814.2 2500.3H763.2Z" fill="#0000ff"/>
<path d="M1237.8 2308.9L1263.3 2266.3H1212.3Z" fill="#0000ff"/>
<path d="M1686.8 1888.6L1712.3 1846.0H1661.3Z" fill="#0000ff"/>
<rect x="225.3" y="1682.5" width="5.8" height="1266" fill="#000"/>
<rect x="1795.3" y="1682.5" width="5.8" height="1266" fill="#000"/>
<rect x="202.3" y="2944.4" width="1598.8" height="5.9" fill="#000"/>
<rect x="202.3" y="1680" width="1598.8" height="2.7" fill="#808080"/>
<rect x="202.3" y="1682.6" width="1598.8" height="2.9" fill="#000"/>
<rect x="216.9" y="1891.7" width="9" height="5.6" fill="#000"/>
<rect x="202.4" y="2103.6" width="23.5" height="2.9" fill="#000"/><rect x="202.4" y="2106.5" width="23.5" height="1.9" fill="#e0e0e0"/>
<rect x="216.9" y="2312.2" width="9" height="2.8" fill="#707070"/><rect x="216.9" y="2315" width="9" height="2.8" fill="#000"/>
<rect x="202.4" y="2524.2" width="23.5" height="5.6" fill="#000"/>
<rect x="216.9" y="2735.8" width="9" height="2.9" fill="#000"/>
<rect x="336.8" y="2950.0" width="5.8" height="22.3" fill="#000"/>
<rect x="562.8" y="2950.0" width="2.9" height="7.5" fill="#000"/>
<rect x="785.8" y="2950.0" width="5.8" height="22.3" fill="#000"/>
<rect x="1011.8" y="2950.0" width="2.9" height="7.5" fill="#000"/>
<rect x="1234.9" y="2950.0" width="5.8" height="22.3" fill="#000"/>
<rect x="1460.9" y="2950.0" width="2.9" height="7.5" fill="#000"/>
<rect x="1683.9" y="2950.0" width="5.8" height="22.3" fill="#000"/>
<text transform="translate(184.5,2965.7)" font-size="65.5" text-anchor="end">1.5</text>
<text transform="translate(184.5,2545.3)" font-size="65.5" text-anchor="end">2.0</text>
<text transform="translate(184.5,2124.2)" font-size="65.5" text-anchor="end">2.5</text>
<text transform="translate(184.5,1702.1)" font-size="65.5" text-anchor="end">3.0</text>
<text transform="translate(339.7,3040.9)" font-size="65.5" text-anchor="middle">0</text>
<text transform="translate(788.7,3040.9)" font-size="65.5" text-anchor="middle">40</text>
<text transform="translate(1237.8,3040.9)" font-size="65.5" text-anchor="middle">80</text>
<text transform="translate(1686.8,3040.9)" font-size="65.5" text-anchor="middle">120</text>
<text transform="translate(134,2319.5) rotate(-90)" font-size="80" text-anchor="middle">(n)</text>
<text transform="translate(1015.0,3129.0) scale(1.0090,1.0000)" font-size="77.5" text-anchor="middle">UV-A exposure (min)</text>
<text transform="translate(292.0,2856.3) scale(0.9900,1.0500)" font-size="67">Z- TA</text>
<text transform="translate(738.5,2850.5) scale(0.9830,0.9700)" font-size="67">Z- 40</text>
<text transform="translate(1193.5,2854.4) scale(0.9850,0.9850)" font-size="67">Z- 80</text>
<text transform="translate(1570.0,2850.3) scale(0.9900,0.9750)" font-size="67">Z- 120</text>
<rect x="805.9" y="1812.1" width="156.7" height="10.8" rx="3.5" fill="#505050"/>
<rect x="867.2" y="1800.2" width="34.6" height="34.6" fill="#505050"/>
<rect x="805.9" y="1892.8" width="156.7" height="10.8" rx="3.5" fill="#ef4040"/>
<circle cx="884.5" cy="1898.2" r="20.2" fill="#ef4040"/>
<rect x="805.9" y="1973.6" width="156.7" height="10.8" rx="3.5" fill="#009000"/>
<path d="M884.5 1954.0L910.0 1994.3H859.0Z" fill="#009000"/>
<rect x="805.9" y="2053.6" width="156.7" height="10.8" rx="3.5" fill="#0000ff"/>
<path d="M884.5 2088.9L910.0 2046.3H859.0Z" fill="#0000ff"/>
<text transform="translate(974.5,1839.0)" font-size="66">350 nm</text>
<text transform="translate(974.5,1919.6)" font-size="66">470 nm</text>
<text transform="translate(974.5,2001.7)" font-size="66">630 nm</text>
<text transform="translate(974.5,2082.9)" font-size="66">800 nm</text>
<text transform="translate(946.5,3241.0)" font-size="88" text-anchor="middle" font-family='"Liberation Serif", "Times New Roman", serif'>(<tspan font-weight="bold">b</tspan>)</text>
</svg>
</body></html>
